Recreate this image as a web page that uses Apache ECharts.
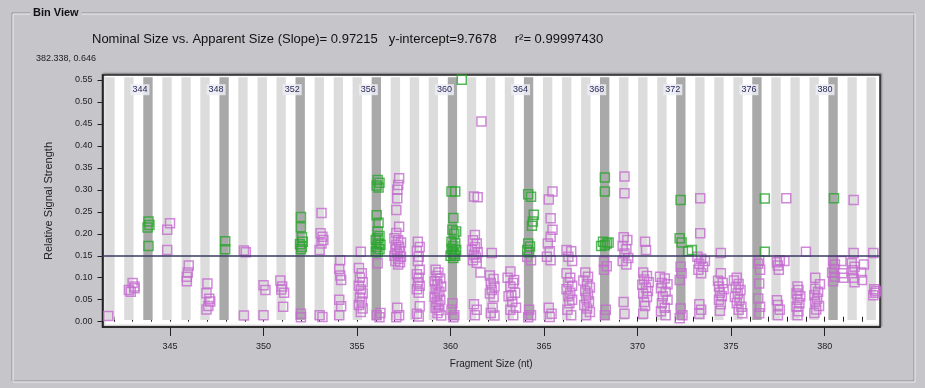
<!DOCTYPE html>
<html>
<head>
<meta charset="utf-8">
<script src="https://cdn.jsdelivr.net/npm/echarts@6/dist/echarts.min.js"></script>
<style>
  html, body { margin: 0; padding: 0; background: #c6c5ca; }
  #chart { width: 925px; height: 388px; }
</style>
</head>
<body>
<div id="chart"></div>
<script>
// bins (nominal size) and where they sit on the apparent-size axis
const binNominal = [342, 343, 344, 345, 346, 347, 348, 349, 350, 351, 352, 353, 354, 355, 356, 357, 358, 359, 360, 361,
  362, 363, 364, 365, 366, 367, 368, 369, 370, 371, 372, 373, 374, 375, 376, 377, 378, 379, 380, 381, 382]
const binCenters = [341.79, 342.80, 343.82, 344.84, 345.86, 346.87, 347.89, 348.90, 349.93, 350.94, 351.96, 352.98,
  354.00, 355.01, 356.03, 357.05, 358.07, 359.08, 360.10, 361.12, 362.14, 363.15, 364.17, 365.19, 366.21, 367.23,
  368.24, 369.26, 370.28, 371.30, 372.31, 373.33, 374.35, 375.37, 376.38, 377.40, 378.42, 379.44, 380.45, 381.47, 382.49]
const labeledBins = [344, 348, 352, 356, 360, 364, 368, 372, 376, 380]

const xTicks = [345, 350, 355, 360, 365, 370, 375, 380]
const xMinorTicks = [342, 343, 344, 345, 346, 347, 348, 349, 350, 351, 352, 353, 354, 355, 356, 357, 358, 359, 360, 361,
  362, 363, 364, 365, 366, 367, 368, 369, 370, 371, 372, 373, 374, 375, 376, 377, 378, 379, 380, 381, 382]
const yTicks = [0, 0.05, 0.10, 0.15, 0.20, 0.25, 0.30, 0.35, 0.40, 0.45, 0.50, 0.55]
const threshold = 0.15

// peaks that fall in a marker bin
const greenPoints = [
  [343.85, 0.228], [343.9, 0.22], [343.8, 0.214], [343.85, 0.172],
  [347.95, 0.183], [347.95, 0.165],
  [352.0, 0.238], [352.0, 0.215], [352.05, 0.192], [352.1, 0.182], [351.95, 0.176], [352.0, 0.165], [352.05, 0.17],
  [356.1, 0.322], [356.2, 0.316], [356.05, 0.31], [356.15, 0.305],
  [356.05, 0.242], [356.15, 0.225], [356.1, 0.205], [356.2, 0.195], [356.0, 0.186], [356.15, 0.178], [356.05, 0.17],
  [356.2, 0.165], [356.1, 0.158], [356.0, 0.16], [356.25, 0.175], [356.1, 0.19],
  [360.6, 0.55], [360.05, 0.296], [360.25, 0.296], [360.15, 0.236], [360.1, 0.209], [360.3, 0.205], [360.2, 0.2],
  [360.05, 0.182], [360.25, 0.178], [360.15, 0.172], [360.05, 0.166], [360.3, 0.163], [360.1, 0.158], [360.2, 0.154],
  [360.0, 0.15], [360.25, 0.15], [360.15, 0.145],
  [364.15, 0.29], [364.3, 0.284], [364.45, 0.243], [364.4, 0.228], [364.35, 0.218], [364.15, 0.178], [364.25, 0.171],
  [364.1, 0.163], [364.2, 0.158],
  [368.25, 0.328], [368.25, 0.296], [368.15, 0.182], [368.35, 0.178], [368.25, 0.174], [368.45, 0.18], [368.05, 0.172],
  [372.3, 0.277], [372.25, 0.19], [372.35, 0.18], [372.7, 0.16], [372.9, 0.163],
  [376.8, 0.28], [376.8, 0.159],
  [380.5, 0.281]
]

// all other peaks
const purplePoints = [
  [341.7, 0.013],
  [342.8, 0.072], [343.0, 0.088], [343.1, 0.08], [342.9, 0.068], [343.1, 0.076],
  [345.0, 0.224], [344.85, 0.209], [344.85, 0.163],
  [346.0, 0.128], [345.95, 0.112], [345.9, 0.092], [345.9, 0.102],
  [347.0, 0.087], [346.95, 0.065], [347.15, 0.046], [347.05, 0.036], [346.95, 0.028], [347.1, 0.052],
  [348.95, 0.162], [349.05, 0.158], [348.95, 0.014],
  [350.0, 0.083], [350.1, 0.072], [350.0, 0.015],
  [350.9, 0.094], [351.0, 0.08], [351.1, 0.066], [350.95, 0.073], [351.05, 0.034],
  [352.0, 0.018], [352.0, 0.01],
  [353.1, 0.247], [353.05, 0.201], [353.15, 0.193], [353.1, 0.178], [353.2, 0.186], [353.0, 0.163], [353.0, 0.015], [353.15, 0.011],
  [354.1, 0.14], [354.05, 0.12], [354.1, 0.105], [354.15, 0.095], [354.05, 0.05], [354.15, 0.035], [354.05, 0.015],
  [355.2, 0.159], [355.1, 0.122], [355.25, 0.11], [355.15, 0.1], [355.3, 0.09], [355.1, 0.082], [355.2, 0.073],
  [355.3, 0.064], [355.15, 0.055], [355.25, 0.046], [355.1, 0.038], [355.3, 0.03], [355.2, 0.022],
  [356.1, 0.133], [356.05, 0.015], [356.2, 0.01], [356.25, 0.02],
  [357.25, 0.326], [357.2, 0.311], [357.15, 0.3], [357.15, 0.281], [357.1, 0.254], [357.25, 0.216], [357.1, 0.202],
  [357.0, 0.19], [357.2, 0.185], [357.35, 0.18], [357.1, 0.175], [357.25, 0.17], [357.05, 0.165], [357.3, 0.16],
  [357.15, 0.155], [357.0, 0.15], [357.35, 0.148], [357.2, 0.143], [357.05, 0.138], [357.3, 0.135], [357.2, 0.13],
  [357.15, 0.032], [357.25, 0.015], [357.1, 0.01],
  [358.25, 0.182], [358.35, 0.17], [358.2, 0.16], [358.3, 0.148], [358.25, 0.138], [358.35, 0.118], [358.2, 0.108],
  [358.3, 0.1], [358.25, 0.09], [358.35, 0.082], [358.2, 0.074], [358.3, 0.066], [358.35, 0.035], [358.2, 0.018], [358.3, 0.012],
  [359.2, 0.118], [359.35, 0.112], [359.25, 0.104], [359.45, 0.098], [359.15, 0.092], [359.3, 0.086], [359.5, 0.08],
  [359.2, 0.074], [359.4, 0.068], [359.3, 0.062], [359.15, 0.056], [359.45, 0.05], [359.25, 0.044], [359.35, 0.038],
  [359.2, 0.032], [359.4, 0.026], [359.3, 0.02], [359.5, 0.014],
  [360.1, 0.042], [360.05, 0.027], [360.2, 0.015], [360.15, 0.01],
  [361.25, 0.285], [361.45, 0.283], [361.65, 0.455], [361.3, 0.197], [361.2, 0.185], [361.4, 0.178], [361.3, 0.17],
  [361.15, 0.163], [361.45, 0.158], [361.25, 0.152], [361.35, 0.146], [361.2, 0.14], [361.4, 0.134], [361.6, 0.112],
  [361.25, 0.04], [361.4, 0.027], [361.3, 0.015],
  [362.2, 0.156], [362.1, 0.105], [362.3, 0.097], [362.15, 0.088], [362.35, 0.08], [362.2, 0.072], [362.1, 0.064],
  [362.3, 0.056], [362.25, 0.032], [362.15, 0.02], [362.35, 0.014],
  [363.2, 0.114], [363.05, 0.1], [363.4, 0.095], [363.2, 0.08], [363.45, 0.066], [363.1, 0.058], [363.3, 0.045],
  [363.5, 0.032], [363.2, 0.027], [363.35, 0.015], [363.25, 0.06], [363.35, 0.088],
  [364.1, 0.148], [364.3, 0.14], [364.2, 0.027], [364.3, 0.015], [364.15, 0.01],
  [365.45, 0.296], [365.25, 0.278], [365.35, 0.235], [365.45, 0.209], [365.35, 0.193], [365.2, 0.178], [365.3, 0.16],
  [365.15, 0.148], [365.35, 0.14], [365.25, 0.032], [365.4, 0.018], [365.3, 0.011],
  [366.2, 0.163], [366.45, 0.16], [366.3, 0.148], [366.5, 0.138], [366.2, 0.11], [366.4, 0.1], [366.3, 0.09],
  [366.5, 0.082], [366.2, 0.074], [366.4, 0.066], [366.3, 0.058], [366.5, 0.05], [366.35, 0.042], [366.25, 0.027], [366.45, 0.015],
  [367.2, 0.112], [367.35, 0.102], [367.1, 0.094], [367.3, 0.086], [367.45, 0.078], [367.2, 0.07], [367.35, 0.062],
  [367.25, 0.054], [367.4, 0.046], [367.15, 0.038], [367.3, 0.03], [367.45, 0.022], [367.25, 0.015],
  [368.2, 0.137], [368.35, 0.126], [368.2, 0.118], [368.3, 0.027], [368.25, 0.015],
  [369.3, 0.33], [369.3, 0.292], [369.25, 0.192], [369.45, 0.186], [369.2, 0.172], [369.4, 0.165], [369.3, 0.155],
  [369.5, 0.145], [369.2, 0.138], [369.4, 0.13], [369.25, 0.045], [369.3, 0.018],
  [370.4, 0.182], [370.45, 0.163], [370.3, 0.112], [370.5, 0.104], [370.35, 0.096], [370.6, 0.09], [370.25, 0.084],
  [370.45, 0.078], [370.55, 0.07], [370.3, 0.064], [370.5, 0.056], [370.35, 0.045], [370.4, 0.036], [370.3, 0.018],
  [371.2, 0.102], [371.45, 0.098], [371.3, 0.088], [371.6, 0.085], [371.25, 0.076], [371.5, 0.068], [371.35, 0.058],
  [371.6, 0.05], [371.3, 0.042], [371.45, 0.032], [371.25, 0.024], [371.5, 0.015],
  [372.3, 0.125], [372.35, 0.11], [372.25, 0.095], [372.3, 0.03], [372.4, 0.015], [372.25, 0.008],
  [373.35, 0.281], [373.35, 0.201], [373.2, 0.148], [373.4, 0.143], [373.6, 0.138], [373.3, 0.132], [373.5, 0.125],
  [373.25, 0.118], [373.4, 0.11], [373.3, 0.04], [373.4, 0.027], [373.3, 0.018],
  [374.45, 0.156], [374.45, 0.11], [374.3, 0.093], [374.55, 0.088], [374.35, 0.08], [374.6, 0.074], [374.4, 0.066],
  [374.5, 0.058], [374.35, 0.05], [374.45, 0.04], [374.4, 0.025],
  [375.3, 0.1], [375.15, 0.094], [375.4, 0.086], [375.25, 0.078], [375.5, 0.072], [375.35, 0.064], [375.2, 0.056],
  [375.45, 0.05], [375.3, 0.042], [375.55, 0.034], [375.4, 0.027], [375.6, 0.019],
  [376.5, 0.14], [376.45, 0.132], [376.55, 0.118], [376.5, 0.087], [376.45, 0.053], [376.55, 0.034], [376.5, 0.019],
  [377.95, 0.281], [377.6, 0.14], [377.45, 0.135], [377.5, 0.128], [377.85, 0.138], [377.55, 0.118], [377.45, 0.049],
  [377.5, 0.038], [377.6, 0.027], [377.5, 0.015],
  [379.0, 0.159], [378.55, 0.08], [378.6, 0.072], [378.5, 0.064], [378.7, 0.058], [378.55, 0.05], [378.65, 0.042],
  [378.5, 0.034], [378.6, 0.024], [378.55, 0.015],
  [379.5, 0.1], [379.75, 0.085], [379.5, 0.075], [379.65, 0.068], [379.45, 0.06], [379.6, 0.052], [379.5, 0.044],
  [379.7, 0.036], [379.55, 0.028], [379.45, 0.02],
  [380.45, 0.138], [380.55, 0.13], [380.5, 0.12], [380.4, 0.112], [380.55, 0.102], [380.45, 0.092], [380.9, 0.138],
  [380.95, 0.11], [381.0, 0.1],
  [381.55, 0.277], [381.55, 0.156], [381.45, 0.133], [381.6, 0.125], [381.5, 0.117], [382.1, 0.13], [381.95, 0.112],
  [381.55, 0.1], [382.0, 0.095], [381.6, 0.09],
  [382.6, 0.156], [382.65, 0.074], [382.7, 0.066], [382.6, 0.06], [382.75, 0.07]
]

const PANEL = '#c6c5ca'
const font = 'Liberation Sans, Arial, sans-serif'

const stripes = binNominal.map((n, i) => {
  const marked = labeledBins.indexOf(n) >= 0
  return [
    {
      xAxis: binCenters[i] - 0.25,
      yAxis: 0.004,
      itemStyle: { color: marked ? '#a9a9a9' : '#dcdcdc' },
      label: marked
        ? {
            show: true,
            formatter: String(n),
            position: 'insideTop',
            offset: [-8, 2],
            color: '#2c2c5a',
            fontSize: 9,
            fontFamily: font,
            backgroundColor: 'rgba(236,236,244,0.85)',
            padding: [1, 2],
          }
        : { show: false },
    },
    { xAxis: binCenters[i] + 0.25, yAxis: 0.556 },
  ]
})

const chart = echarts.init(document.getElementById('chart'))
chart.setOption({
  backgroundColor: PANEL,
  animation: false,
  textStyle: { fontFamily: font },
  graphic: [
    // group box
    { type: 'rect', z: -10, shape: { x: 12, y: 13, width: 902, height: 368 }, style: { fill: 'none', stroke: '#8e8e92', lineWidth: 1 } },
    { type: 'rect', z: -10, shape: { x: 13, y: 14, width: 902, height: 368 }, style: { fill: 'none', stroke: '#ececf0', lineWidth: 1 } },
    { type: 'text', left: 30, top: 6, style: { text: 'Bin View', font: 'bold 11px ' + font, fill: '#111', backgroundColor: PANEL, padding: [1, 3] } },
    { type: 'text', left: 92, top: 33, style: { text: 'Nominal Size vs. Apparent Size (Slope)= 0.97215   y-intercept=9.7678     r²= 0.99997430', font: '13px ' + font, fill: '#111' } },
    { type: 'text', left: 36, top: 54, style: { text: '382.338, 0.646', font: '9px ' + font, fill: '#222' } },
  ],
  grid: {
    left: 102.5, right: 45, top: 75, bottom: 61,
    show: true, backgroundColor: '#ffffff', borderColor: '#2a2a2a', borderWidth: 1.5,
    shadowColor: 'rgba(0,0,0,0.35)', shadowBlur: 2, shadowOffsetX: 1, shadowOffsetY: -1,
  },
  xAxis: [
    {
      type: 'value', min: 341.39, max: 382.96,
      name: 'Fragment Size (nt)', nameLocation: 'middle', nameGap: 32,
      nameTextStyle: { fontSize: 10, color: '#222' },
      axisLine: { show: true, onZero: false, lineStyle: { color: '#222', width: 1.5 } },
      axisTick: { show: true, customValues: xTicks, length: 9, lineStyle: { color: '#222' } },
      axisLabel: { customValues: xTicks, margin: 15, fontSize: 9, color: '#222' },
      splitLine: { show: false },
    },
    {
      type: 'value', min: 341.39, max: 382.96, position: 'bottom',
      axisLine: { show: false },
      axisTick: { show: true, inside: true, customValues: xMinorTicks, length: 5, lineStyle: { color: '#222' } },
      axisLabel: { show: false },
      splitLine: { show: false },
    },
  ],
  yAxis: {
    type: 'value', min: -0.012, max: 0.561,
    name: 'Relative Signal Strength', nameLocation: 'middle', nameGap: 48,
    nameTextStyle: { fontSize: 11, color: '#222' },
    axisLine: { show: true, onZero: false, lineStyle: { color: '#222', width: 1.5 } },
    axisTick: { show: true, customValues: yTicks, length: 5, lineStyle: { color: '#222' } },
    axisLabel: { customValues: yTicks, margin: 10, fontSize: 9, color: '#222', formatter: (v) => v.toFixed(2) },
    splitLine: { show: false },
  },
  series: [
    {
      type: 'scatter', data: [], z: 1, silent: true,
      markArea: { silent: true, data: stripes },
      markLine: {
        silent: true, symbol: 'none', label: { show: false },
        lineStyle: { color: '#3a3a66', width: 1.5, type: 'solid' },
        data: [{ yAxis: threshold }],
      },
    },
    {
      type: 'scatter', name: 'other', z: 3,
      symbol: 'rect', symbolSize: 9,
      itemStyle: { color: 'rgba(0,0,0,0)', borderColor: '#c46ccf', borderWidth: 1.5 },
      data: purplePoints,
    },
    {
      type: 'scatter', name: 'bin', z: 4,
      symbol: 'rect', symbolSize: 9,
      itemStyle: { color: 'rgba(0,0,0,0)', borderColor: '#2aa62e', borderWidth: 1.5 },
      data: greenPoints,
    },
  ],
})
</script>
</body>
</html>
